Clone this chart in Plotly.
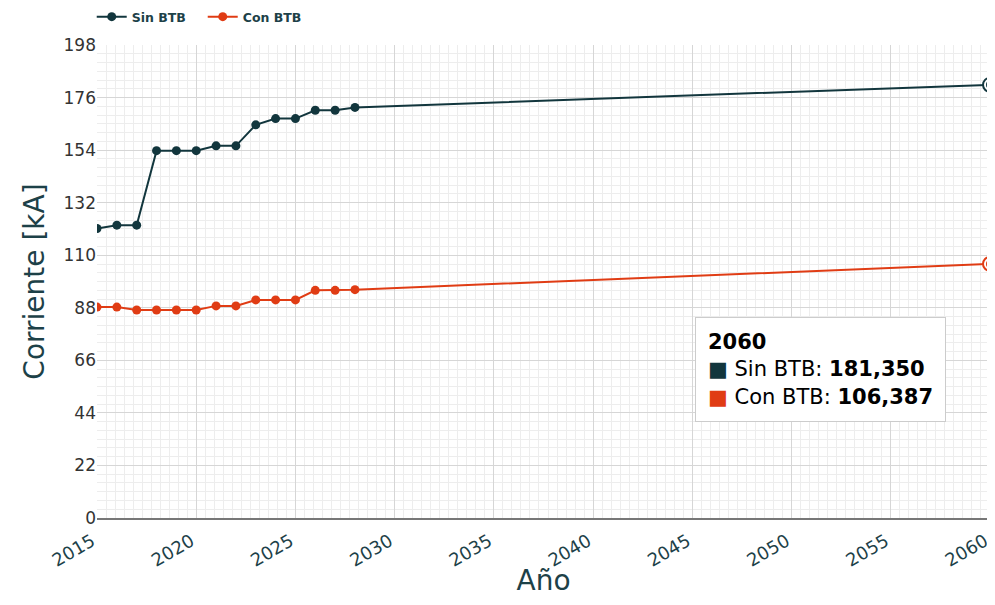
import plotly.graph_objects as go

# datos
anios = [2015, 2016, 2017, 2018, 2019, 2020, 2021, 2022, 2023, 2024, 2025, 2026, 2027, 2028, 2060]
sin_btb = [121.2, 122.6, 122.6, 153.8, 153.8, 153.8, 155.8, 155.8, 164.6, 167.2, 167.2, 170.7, 170.7, 171.9, 181.35]
con_btb = [88.3, 88.3, 87.1, 87.1, 87.1, 87.1, 88.8, 88.8, 91.3, 91.3, 91.3, 95.3, 95.3, 95.6, 106.387]

col_sin = "#12363d"
col_con = "#e03c14"
txt = "#1d4148"


def fmt(v):
    # coma decimal, como en el tooltip original
    return f"{v:.3f}".replace(".", ",")


fig = go.Figure()
fig.add_trace(go.Scatter(x=anios, y=sin_btb, mode="lines+markers", name="Sin BTB",
                         line=dict(color=col_sin, width=2), marker=dict(size=9, color=col_sin)))
fig.add_trace(go.Scatter(x=anios, y=con_btb, mode="lines+markers", name="Con BTB",
                         line=dict(color=col_con, width=2), marker=dict(size=9, color=col_con)))

# punto resaltado (hover) en el ultimo año
for serie, col in [(sin_btb, col_sin), (con_btb, col_con)]:
    fig.add_trace(go.Scatter(x=anios[-1:], y=serie[-1:], mode="markers", showlegend=False,
                             marker=dict(size=14, color="white", line=dict(color=col, width=2)),
                             cliponaxis=False, hoverinfo="skip"))
    fig.add_trace(go.Scatter(x=anios[-1:], y=serie[-1:], mode="markers", showlegend=False,
                             marker=dict(size=8, color=col), cliponaxis=False, hoverinfo="skip"))

# caja tipo tooltip
fig.add_annotation(
    xref="paper", yref="paper", x=0.67, y=0.426, xanchor="left", yanchor="top",
    showarrow=False, align="left",
    text=(f"<b>{anios[-1]}</b><br>"
          f"<span style='color:{col_sin}'>■</span> Sin BTB: <b>{fmt(sin_btb[-1])}</b><br>"
          f"<span style='color:{col_con}'>■</span> Con BTB: <b>{fmt(con_btb[-1])}</b>"),
    font=dict(family="DejaVu Sans", size=21, color="black"),
    bgcolor="white", bordercolor="#cccccc", borderwidth=1, borderpad=12,
)

# la página añade 8 px de margen al body: se compensa en tamaño y márgenes
fig.update_layout(
    width=985, height=589,
    margin=dict(l=89, r=3, t=36, b=79),
    plot_bgcolor="white", paper_bgcolor="white",
    font=dict(family="DejaVu Sans", color=txt),
    showlegend=True,
    legend=dict(orientation="h", x=0.085, xanchor="left", xref="container",
                y=1 - 9 / 589, yanchor="middle", yref="container",
                font=dict(size=12.5, color=txt, weight="bold"), itemwidth=30,
                entrywidth=66, bgcolor="rgba(0,0,0,0)"),
    xaxis=dict(
        title=dict(text="Año", font=dict(size=28, color=txt), standoff=12),
        range=[2015, 2060], dtick=5, tick0=2015, tickangle=-30,
        tickfont=dict(size=18, color=txt), ticklabeloverflow="allow", automargin=False,
        ticklabelstandoff=4, ticklabelshift=-5,
        showgrid=True, gridcolor="#d6d6d6", gridwidth=1,
        minor=dict(dtick=5 / 11, tick0=2015, showgrid=True, gridcolor="#ededed", gridwidth=1),
        showline=True, linecolor="#777777", linewidth=2, zeroline=False, ticks="",
    ),
    yaxis=dict(
        title=dict(text="Corriente [kA]", font=dict(size=28, color=txt), standoff=10),
        range=[0, 198], dtick=22, tick0=0,
        tickfont=dict(size=17, color="#333333"),
        showgrid=True, gridcolor="#d6d6d6", gridwidth=1,
        minor=dict(dtick=22 / 6, tick0=0, showgrid=True, gridcolor="#ededed", gridwidth=1),
        showline=False, zeroline=False, ticks="",
    ),
)

fig.write_html("out.html")
